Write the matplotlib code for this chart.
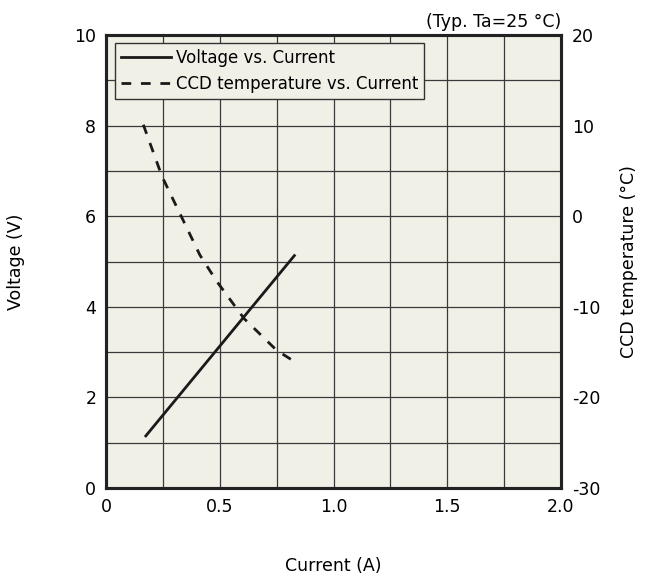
import matplotlib.pyplot as plt
from matplotlib.ticker import MultipleLocator

# voltage vs current (straight line)
current_v = [0.175, 0.828]
voltage = [1.15, 5.13]

# CCD temperature vs current
current_t = [0.164, 0.246, 0.413, 0.487, 0.607, 0.75, 0.838]
ccd_temp = [10.1, 4.4, -4.3, -7.2, -11.3, -14.8, -16.2]

plt.rcParams['font.family'] = ['DejaVu Sans']
plt.rcParams['font.size'] = 12.5
plt.rcParams['axes.unicode_minus'] = False

fig = plt.figure(figsize=(6.46, 5.76), dpi=100)
ax = fig.add_axes([106/646, 1 - 488/576, 455/646, 453/576])
ax.set_facecolor('#f1f0e7')

ax.set_xlim(0, 2.0)
ax.set_ylim(0, 10)
ax.xaxis.set_major_locator(MultipleLocator(0.5))
ax.xaxis.set_minor_locator(MultipleLocator(0.25))
ax.yaxis.set_major_locator(MultipleLocator(2))
ax.yaxis.set_minor_locator(MultipleLocator(1))
ax.set_xticks([0, 0.5, 1.0, 1.5, 2.0], ['0', '0.5', '1.0', '1.5', '2.0'])
ax.grid(True, which='both', color='#3a3a3a', linewidth=0.9)
ax.tick_params(which='both', length=0, pad=7)
ax.set_axisbelow(True)

l1, = ax.plot(current_v, voltage, color='#1a1a1a', linewidth=2, label='Voltage vs. Current')

ax2 = ax.twinx()
ax2.set_ylim(-30, 20)
ax2.yaxis.set_major_locator(MultipleLocator(10))
ax2.tick_params(length=0, pad=8)
l2, = ax2.plot(current_t, ccd_temp, color='#1a1a1a', linewidth=2,
               linestyle=(0, (3.5, 3.5)), label='CCD temperature vs. Current')

for a in (ax, ax2):
    for s in a.spines.values():
        s.set_linewidth(2.2)
        s.set_color('#222222')

ax.set_xlabel('Current (A)')
ax.xaxis.set_label_coords(0.5, -0.152)
ax.set_ylabel('Voltage (V)')
ax.yaxis.set_label_coords(-0.178, 0.5)
ax2.set_ylabel('CCD temperature (°C)')
ax2.yaxis.set_label_coords(1.13, 0.5)
ax.set_title('(Typ. Ta=25 °C)', loc='right', pad=6, fontsize=12.5)

leg = ax.legend(handles=[l1, l2], loc='upper left', bbox_to_anchor=(0.02, 0.982),
                fancybox=False, edgecolor='#333333', facecolor='#f1f0e7', framealpha=1,
                handlelength=3.0, handletextpad=0.3, borderpad=0.35, labelspacing=0.5,
                borderaxespad=0, fontsize=12)
leg.get_frame().set_linewidth(1)

fig.savefig('out.png', dpi=100)
